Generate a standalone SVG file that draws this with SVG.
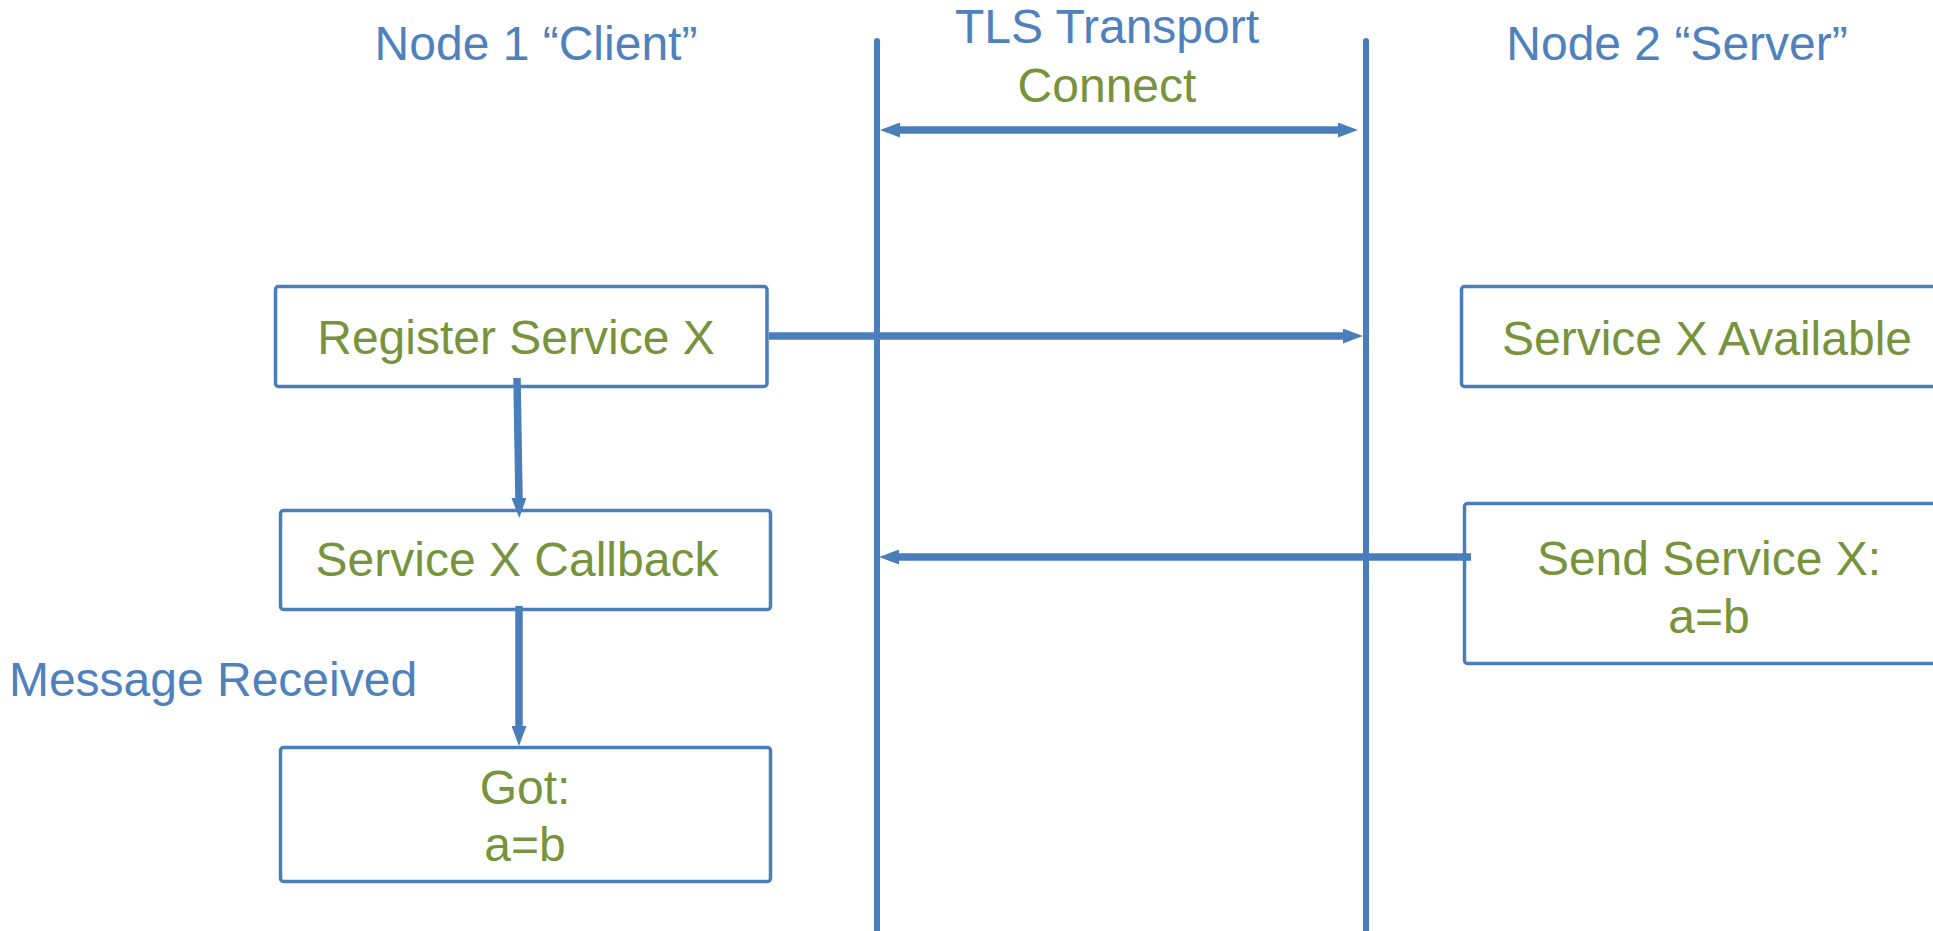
<svg xmlns="http://www.w3.org/2000/svg" width="1933" height="931" viewBox="0 0 1933 931">
<style>
text{font-family:"Liberation Sans",Arial,sans-serif;font-size:48px;text-anchor:middle}
.blue{fill:#4f81bd}
.green{fill:#77933c}
.box{fill:#ffffff;stroke:#4a7ebb;stroke-width:3.5}
.life{stroke:#4a7ebb;stroke-width:6;stroke-linecap:round;fill:none}
.arr{stroke:#4a7ebb;stroke-width:7.5;fill:none}
</style>
<defs>
<marker id="ah" markerUnits="userSpaceOnUse" markerWidth="20" markerHeight="15" refX="2" refY="7.5" orient="auto-start-reverse" viewBox="0 0 20 15">
<path d="M0,0 L20,7.5 L0,15 z" fill="#4a7ebb"/>
</marker>
</defs>
<g id="headers">
<text class="blue" x="536" y="60">Node 1 “Client”</text>
<text class="blue" x="1107" y="43">TLS Transport</text>
<text class="green" x="1107" y="102">Connect</text>
<text class="blue" x="1677" y="60">Node 2 “Server”</text>
</g>
<g id="lifelines">
<line class="life" x1="877" y1="41" x2="877" y2="940"/>
<line class="life" x1="1366" y1="41" x2="1366" y2="940"/>
</g>
<g id="register">
<rect class="box" x="275.5" y="286.5" width="491.5" height="100" rx="3"/>
<text class="green" x="516" y="354">Register Service X</text>
</g>
<g id="callback">
<rect class="box" x="280.5" y="510.5" width="490" height="99" rx="3"/>
<text class="green" x="517" y="576">Service X Callback</text>
</g>
<g id="got">
<rect class="box" x="280.5" y="747.5" width="490" height="134" rx="3"/>
<text class="green" x="525" y="804">Got:</text>
<text class="green" x="525" y="861">a=b</text>
</g>
<g id="available">
<rect class="box" x="1461.5" y="286.5" width="520" height="100" rx="3"/>
<text class="green" x="1707" y="355">Service X Available</text>
</g>
<g id="send">
<rect class="box" x="1464.5" y="503.5" width="520" height="160" rx="3"/>
<text class="green" x="1709" y="575">Send Service X:</text>
<text class="green" x="1709" y="633">a=b</text>
</g>
<g id="message-label">
<text class="blue" x="213" y="696">Message Received</text>
</g>
<g id="connectors">
<line class="arr" x1="898" y1="130" x2="1340" y2="130" marker-start="url(#ah)" marker-end="url(#ah)"/>
<line class="arr" x1="769" y1="336" x2="1345" y2="336" marker-end="url(#ah)"/>
<line class="arr" x1="1471" y1="557" x2="897" y2="557" marker-end="url(#ah)"/>
<line class="arr" x1="517" y1="378" x2="519" y2="500" marker-end="url(#ah)"/>
<line class="arr" x1="519" y1="606" x2="519" y2="728" marker-end="url(#ah)"/>
</g>
</svg>
